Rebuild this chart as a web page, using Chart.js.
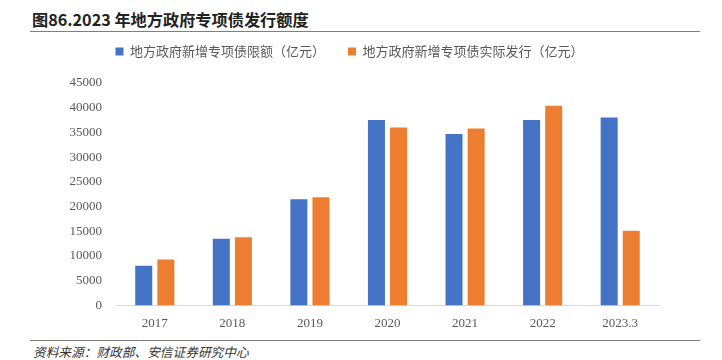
<!DOCTYPE html>
<html>
<head>
<meta charset="utf-8">
<script src="https://cdn.jsdelivr.net/npm/chart.js@4.4.1/dist/chart.umd.min.js"></script>
<style>
    html, body { margin: 0; padding: 0; background: #fff; }
    #page { position: relative; width: 722px; height: 360px; overflow: hidden; }
    #title {
        position: absolute; left: 32px; top: 7px;
        font: bold 16.2px "Noto Sans CJK SC", sans-serif; color: #222;
    }
    #titleLine { position: absolute; left: 30px; right: 22px; top: 31px; border-top: 1.5px solid #7f7f7f; }
    #footLine { position: absolute; left: 30px; right: 22px; top: 340px; border-top: 1.5px solid #7f7f7f; }
    #source {
        position: absolute; left: 33px; top: 342px;
        font: italic 12.7px "Noto Sans CJK SC", sans-serif; color: #333;
    }
    #chartBox { position: absolute; left: 0; top: 0; width: 722px; height: 333px; }
</style>
</head>
<body>
<div id="page">
    <div id="title">图86.2023 年地方政府专项债发行额度</div>
    <div id="titleLine"></div>
    <div id="chartBox"><canvas id="bondChart"></canvas></div>
    <div id="footLine"></div>
    <div id="source">资料来源：财政部、安信证券研究中心</div>
</div>
<script>
// Data (亿元)
const years = ["2017", "2018", "2019", "2020", "2021", "2022", "2023.3"];
const quota = [8000, 13500, 21500, 37500, 34700, 37500, 38000];
const issued = [9300, 13800, 21900, 36000, 35800, 40400, 15100];
const seriesNames = ["地方政府新增专项债限额（亿元）", "地方政府新增专项债实际发行（亿元）"];

(() => {
    const canvas = document.getElementById("bondChart");
    if (typeof Chart === "undefined" || !canvas) return;

    // Fix legend block height so the plot starts where the reference does
    const legendHeight = {
        id: "legendHeight",
        beforeInit(chart) {
            const fit = chart.legend.fit;
            chart.legend.fit = function () {
                fit.call(this);
                this.height = 61;
            };
        },
    };

    const barStyle = {
        categoryPercentage: 0.57,
        barPercentage: 0.77,
        borderWidth: 0,
    };

    new Chart(canvas, {
        type: "bar",
        data: {
            labels: years,
            datasets: [
                { label: seriesNames[0], data: quota, backgroundColor: "#4472C4", ...barStyle },
                { label: seriesNames[1], data: issued, backgroundColor: "#ED7D31", ...barStyle },
            ],
        },
        options: {
            responsive: true,
            maintainAspectRatio: false,
            animation: false,
            layout: { padding: { left: 40, right: 63, top: 22, bottom: 0 } },
            plugins: {
                legend: {
                    position: "top",
                    labels: {
                        boxWidth: 8,
                        boxHeight: 8,
                        padding: 23,
                        color: "#595959",
                        font: { family: "Noto Sans CJK SC", size: 13 },
                    },
                },
                tooltip: { enabled: false },
            },
            scales: {
                x: {
                    grid: { display: false },
                    border: { display: true, color: "#d9d9d9", width: 1 },
                    ticks: {
                        color: "#595959",
                        font: { family: "Liberation Serif", size: 13 },
                        padding: 2,
                    },
                },
                y: {
                    min: 0,
                    max: 45000,
                    grid: { display: false },
                    border: { display: false },
                    afterFit: (axis) => { axis.width = 76; },
                    ticks: {
                        stepSize: 5000,
                        color: "#595959",
                        font: { family: "Liberation Serif", size: 13 },
                        padding: 6,
                        callback: (v) => String(v),
                    },
                },
            },
        },
        plugins: [legendHeight],
    });
})();
</script>
</body>
</html>
